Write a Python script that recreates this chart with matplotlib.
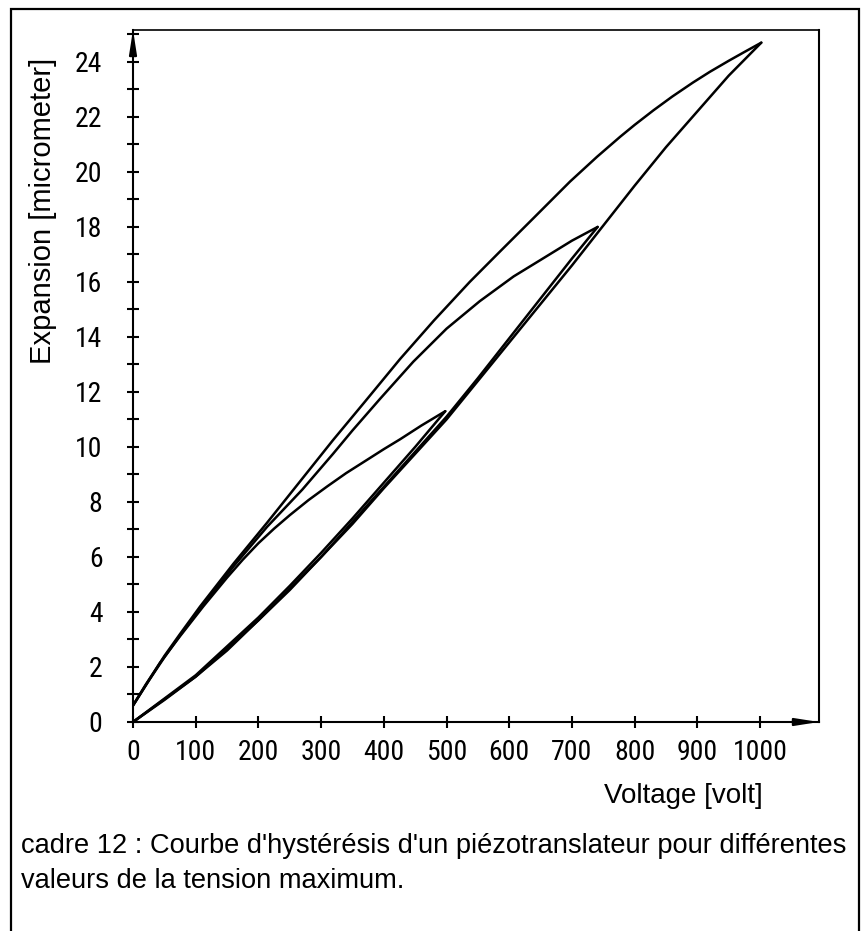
import os
import matplotlib
matplotlib.use("Agg")
from matplotlib import pyplot as plt
from matplotlib import font_manager as fm
from matplotlib.patches import Rectangle

# loop with 1000 V max
volt_up_1000 = [0, 50, 100, 150, 200, 250, 300, 350, 400, 450, 500, 550, 600, 650, 700, 750, 800, 850, 900, 950, 1002]
exp_up_1000 = [0, 0.8, 1.65, 2.6, 3.7, 4.8, 6.0, 7.2, 8.5, 9.75, 11.0, 12.4, 13.8, 15.2, 16.6, 18.05, 19.5, 20.9, 22.2, 23.5, 24.7]
volt_down_1000 = [1002, 975, 950, 920, 893, 860, 830, 800, 777, 740, 697, 640, 585, 537, 480, 426, 370, 319, 270, 214,
                  160, 107, 75, 50, 25, 0]
exp_down_1000 = [24.7, 24.36, 24.04, 23.64, 23.25, 22.74, 22.24, 21.71, 21.28, 20.55, 19.65, 18.35, 17.1, 16.0, 14.6,
                 13.2, 11.65, 10.25, 8.85, 7.25, 5.75, 4.2, 3.2, 2.4, 1.5, 0.6]

# loop with 740 V max
volt_up_740 = [0, 100, 200, 300, 400, 500, 550, 600, 650, 700, 741]
exp_up_740 = [0, 1.65, 3.7, 6.0, 8.55, 11.1, 12.5, 13.95, 15.4, 16.85, 18.0]
volt_down_740 = [741, 700, 650, 607, 553, 500, 447, 394, 350, 319, 270, 214, 160, 107, 75, 50, 25, 0]
exp_down_740 = [18.0, 17.5, 16.8, 16.2, 15.3, 14.3, 13.1, 11.75, 10.6, 9.75, 8.45, 7.1, 5.65, 4.1, 3.15, 2.35, 1.5, 0.6]

# loop with 500 V max
volt_up_500 = [0, 100, 200, 250, 300, 350, 400, 450, 498]
exp_up_500 = [0, 1.7, 3.8, 4.95, 6.15, 7.4, 8.7, 10.0, 11.3]
volt_down_500 = [498, 460, 426, 400, 378, 340, 310, 280, 250, 225, 200, 175, 150, 112, 75, 43, 20, 0]
exp_down_500 = [11.3, 10.78, 10.28, 9.92, 9.6, 9.05, 8.57, 8.07, 7.52, 7.03, 6.5, 5.9, 5.25, 4.2, 3.12, 2.15, 1.35, 0.6]

x_ticks = [0, 100, 200, 300, 400, 500, 600, 700, 800, 900, 1000]
y_major = [0, 2, 4, 6, 8, 10, 12, 14, 16, 18, 20, 22, 24]
y_minor = list(range(0, 26))


def narrow_font():
    # look for a narrow face for the tick numbers, plain Liberation Sans otherwise
    for f in fm.fontManager.ttflist:
        if f.name == 'Liberation Sans Narrow' and f.weight in (400, 'normal') and f.style == 'normal':
            return fm.FontProperties(fname=f.fname, size=20)
    for key in ('Condensed-Regular', 'CondensedRegular', 'Condensed.'):
        for f in fm.fontManager.ttflist:
            base = os.path.basename(f.fname)
            if base.startswith(('NotoSans-', 'NotoSans', 'RobotoCondensed')) and key in base \
                    and 'Semi' not in base and 'Extra' not in base and 'Mono' not in base \
                    and 'Display' not in base and 'Italic' not in base:
                return fm.FontProperties(fname=f.fname, size=20)
    for f in fm.fontManager.ttflist:
        if f.name == 'Roboto Condensed' and f.style == 'normal' and f.weight in (400, 'normal'):
            return fm.FontProperties(fname=f.fname, size=20)
    return fm.FontProperties(family='Liberation Sans', size=18)


W, H = 864, 931
fig = plt.figure(figsize=(W / 100, H / 100), dpi=100)
matplotlib.rcParams.update({'font.size': 20})

# outer frame of the page
fig.patches.append(Rectangle((11 / W, -0.05), (859 - 11) / W, 1.05 - 9 / H, transform=fig.transFigure,
                             fill=False, lw=1.6, ec='black'))

ax = fig.add_axes([133 / W, (H - 722) / H, (819 - 133) / W, (722 - 30) / H])
ax.set_xlim(0, 1094)
ax.set_ylim(0, 25.16)

for v, e in [(volt_up_1000, exp_up_1000), (volt_down_1000, exp_down_1000),
             (volt_up_740, exp_up_740), (volt_down_740, exp_down_740),
             (volt_up_500, exp_up_500), (volt_down_500, exp_down_500)]:
    ax.plot(v, e, color='black', lw=1.8, solid_joinstyle='round', solid_capstyle='round')

for s in ax.spines.values():
    s.set_linewidth(1.5)
ax.spines['top'].set_linewidth(1.2)

tick_fp = narrow_font()
ax.set_xticks(x_ticks)
ax.set_xticklabels([str(t) for t in x_ticks])
ax.set_yticks(y_major)
ax.set_yticklabels([str(t) for t in y_major])
ax.set_yticks(y_minor, minor=True)
for lab in ax.get_xticklabels() + ax.get_yticklabels():
    lab.set_fontproperties(tick_fp)
ax.tick_params(axis='x', direction='inout', length=8, width=1.5, pad=8)
ax.tick_params(axis='y', which='both', direction='inout', length=8, width=1.5, pad=18)

# arrow heads at the ends of the axes
ax.annotate('', xy=(0, 25.16), xytext=(0, 24.3), annotation_clip=False,
            arrowprops=dict(arrowstyle='-|>,head_length=1.4,head_width=0.22', color='black',
                            lw=1.5, shrinkA=0, shrinkB=0, mutation_scale=10))
ax.annotate('', xy=(1094, 0), xytext=(1050, 0), annotation_clip=False,
            arrowprops=dict(arrowstyle='-|>,head_length=1.4,head_width=0.22', color='black',
                            lw=1.5, shrinkA=0, shrinkB=0, mutation_scale=10))

lab_font = ['Liberation Sans', 'DejaVu Sans']
fig.text(43 / W, 1 - 211 / H, 'Expansion [micrometer]', rotation=90, ha='center', va='center',
         family=lab_font, fontsize=21)
fig.text(683 / W, 1 - 803 / H, 'Voltage [volt]', ha='center', va='baseline', family=lab_font, fontsize=20)

fig.text(21 / W, 1 - 853 / H, "cadre 12 : Courbe d'hystérésis d'un piézotranslateur pour différentes",
         ha='left', va='baseline', family=lab_font, fontsize=19.6)
fig.text(21 / W, 1 - 888 / H, "valeurs de la tension maximum.",
         ha='left', va='baseline', family=lab_font, fontsize=19.6)

fig.savefig('out.png', dpi=100)
plt.close()
